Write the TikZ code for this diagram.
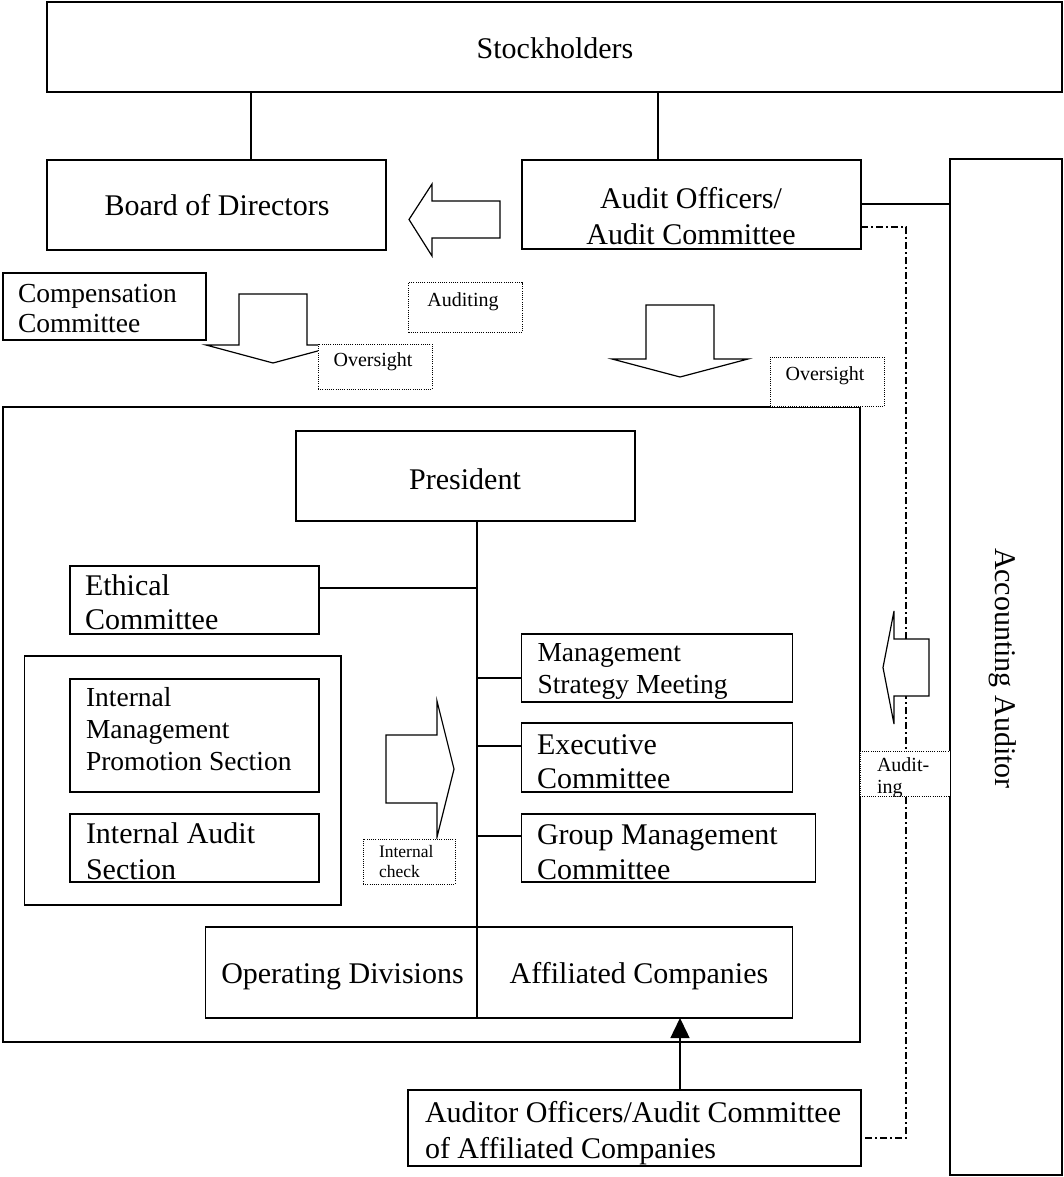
\documentclass[tikz,border=0pt]{standalone}
\usepackage{fontspec}
\setmainfont{Liberation Serif}
\usetikzlibrary{arrows.meta}
\newcommand{\mystack}[2]{\vtop{\baselineskip=#1\lineskiplimit=-100pt\lineskip=0pt #2}}
\newcommand{\lnL}[1]{\hbox{#1}}
\newcommand{\lnC}[1]{\hbox to 0pt{\hss #1\hss}}
\begin{document}
\begin{tikzpicture}[x=1pt,y=-1pt,
  box/.style={draw, line width=1.2pt, inner sep=0pt, outer sep=0pt, anchor=north west, fill=white},
  lbl/.style={draw, line width=0.9pt, dash pattern=on 1pt off 1.2pt, inner sep=0pt, outer sep=0pt, anchor=north west, fill=white},
  blk/.style={draw, line width=1.2pt, fill=white, line join=miter},
  conn/.style={line width=1.2pt},
  dashdot/.style={line width=1.1pt, dash pattern=on 7pt off 3pt on 2pt off 3pt},
  txt/.style={inner sep=0pt, outer sep=0pt, anchor=base west, font=\fontsize{30}{34}\selectfont},
  txtm/.style={txt, font=\fontsize{27.5}{32}\selectfont},
  txts/.style={txt, font=\fontsize{20}{22}\selectfont},
  txtxs/.style={txt, font=\fontsize{17.5}{20}\selectfont}
]
\useasboundingbox (0,0) rectangle (1063,1177);
\fill[white] (0,0) rectangle (1063,1177);

% ---------- boxes ----------
\node[box, minimum width=1015pt, minimum height=90pt] (stock) at (47,2) {};
\node[box, minimum width=339pt, minimum height=90pt] (bod) at (47,160) {};
\node[box, minimum width=339pt, minimum height=89pt] (aud) at (522,160) {};
\node[box, minimum width=112pt, minimum height=1016pt] (acc) at (950,159) {};
\node[box, minimum width=203pt, minimum height=67pt] (comp) at (3,273) {};
\node[box, minimum width=857pt, minimum height=635pt] (frame) at (3,407) {};
\node[box, minimum width=339pt, minimum height=90pt] (pres) at (296,431) {};
\node[box, minimum width=249pt, minimum height=68pt] (eth) at (70,566) {};
\node[box, minimum width=316.5pt, minimum height=249pt] (intout) at (24.5,656) {};
\node[box, minimum width=249pt, minimum height=113pt] (imp) at (70,679) {};
\node[box, minimum width=249pt, minimum height=68pt] (ias) at (70,814) {};
\node[box, minimum width=271pt, minimum height=68pt] (msm) at (521.5,634) {};
\node[box, minimum width=271pt, minimum height=69pt] (exe) at (521.5,723) {};
\node[box, minimum width=294pt, minimum height=68pt] (gmc) at (521.5,814) {};
\node[box, minimum width=271.5pt, minimum height=91pt] (ops) at (205.5,927) {};
\node[box, minimum width=315.5pt, minimum height=91pt] (aff) at (477,927) {};
\node[box, minimum width=453pt, minimum height=76pt] (aoac) at (408,1090) {};

% ---------- connectors ----------
\coordinate (cs1) at (251,0);
\coordinate (cs2) at (658,0);
\coordinate (cac) at (0,204);
\coordinate (dd1) at (906,227);
\coordinate (dd2) at (906,1138);
\coordinate (cv) at (477,0);
\coordinate (ceth) at (0,588);
\coordinate (cmsm) at (0,678);
\coordinate (cexe) at (0,746);
\coordinate (cgmc) at (0,836);
\coordinate (cup) at (680,0);

\draw[conn] (stock.south -| cs1) -- (bod.north -| cs1);
\draw[conn] (stock.south -| cs2) -- (aud.north -| cs2);
\draw[conn] (aud.east |- cac) -- (acc.west |- cac);
\draw[dashdot] (aud.east |- dd1) -- (dd1) -- (dd2) -- (aoac.east |- dd2);
\draw[conn] (pres.south -| cv) -- (ops.south east);
\draw[conn] (eth.east |- ceth) -- (cv |- ceth);
\draw[conn] (cv |- cmsm) -- (msm.west |- cmsm);
\draw[conn] (cv |- cexe) -- (exe.west |- cexe);
\draw[conn] (cv |- cgmc) -- (gmc.west |- cgmc);
\draw[line width=1.5pt, -{Triangle[width=19pt,length=20pt]}] (aoac.north -| cup) -- (aff.south -| cup);

% ---------- block arrows ----------
\draw[blk] (500,201) -- (432,201) -- (432,184) -- (409,219.5) -- (432,256) -- (432,238) -- (500,238) -- cycle;
\draw[blk] (239,294) -- (307,294) -- (307,345) -- (340,345) -- (273,363) -- (206,345) -- (239,345) -- cycle;
\draw[blk] (646,305) -- (714,305) -- (714,359) -- (748,359) -- (680,377) -- (612,359) -- (646,359) -- cycle;
\draw[blk] (386,735) -- (437,735) -- (437,701) -- (454,769) -- (437,837) -- (437,803) -- (386,803) -- cycle;
\draw[blk] (929,639) -- (894,639) -- (894,611) -- (883,667.5) -- (894,724) -- (894,696) -- (929,696) -- cycle;

% ---------- dotted labels ----------
\node[lbl, minimum width=113.5pt, minimum height=49.5pt] (lauditing) at (408.5,282.5) {};
\node[lbl, minimum width=114pt, minimum height=45pt] (lovl) at (318,344) {};
\node[lbl, minimum width=114pt, minimum height=49.5pt] (lovr) at (770,357) {};
\node[lbl, minimum width=92pt, minimum height=45pt] (lic) at (363,839) {};
\node[lbl, minimum width=90pt, minimum height=45pt] (laud) at (860,751) {};

% ---------- texts ----------
\node[txt, anchor=base] (stockt) at (555,59) {Stockholders};
\node[txt, anchor=base] (bodt) at (217,215) {Board of Directors};
\node[txt, anchor=base] (audt) at (691,208) {\mystack{36pt}{\lnC{Audit Officers/}\lnC{Audit Committee}}};
\node[txtm] (compt) at (18,302) {\mystack{30pt}{\lnL{Compensation}\lnL{Committee}}};
\node[txt, rotate=-90] (acct) at (995,548) {Accounting Auditor};
\node[txt, anchor=base] (prest) at (465,489) {President};
\node[txt] (etht) at (85,595) {\mystack{34.3pt}{\lnL{Ethical}\lnL{Committee}}};
\node[txtm] (impt) at (86,706.7) {\mystack{32pt}{\lnL{Internal}\lnL{Management}\lnL{Promotion Section}}};
\node[txt] (iast) at (86,843.3) {\mystack{36pt}{\lnL{Internal Audit}\lnL{Section}}};
\begin{scope}
  \clip (msm.north west) rectangle (msm.south east);
  \node[txtm] (msmt) at (537.5,661.7) {\mystack{32pt}{\lnL{Management}\lnL{Strategy Meeting}}};
\end{scope}
\node[txt] (exet) at (537,754) {\mystack{34.3pt}{\lnL{Executive}\lnL{Committee}}};
\node[txt] (gmct) at (537,844.3) {\mystack{34.7pt}{\lnL{Group Management}\lnL{Committee}}};
\node[txt, anchor=base] (opst) at (342.5,983.3) {Operating Divisions};
\node[txt, anchor=base] (afft) at (639,983.3) {Affiliated Companies};
\begin{scope}
  \clip (aoac.north west) rectangle (aoac.south east);
  \node[txt] (aoact) at (425,1122.5) {\mystack{35.7pt}{\lnL{Auditor Officers/Audit Committee}\lnL{of Affiliated Companies}}};
\end{scope}
\node[txts, anchor=base] (lauditingt) at (463,306) {Auditing};
\node[txts, anchor=base] (lovlt) at (373,366) {Oversight};
\node[txts, anchor=base] (lovrt) at (825,380) {Oversight};
\node[txtxs] (lict) at (379,857.3) {\mystack{20pt}{\lnL{Internal}\lnL{check}}};
\begin{scope}
  \clip (laud.north west) rectangle (laud.south east);
  \node[txts] (laudt) at (877,771.7) {\mystack{21.6pt}{\lnL{Audit-}\lnL{ing}}};
\end{scope}
\end{tikzpicture}
\end{document}
